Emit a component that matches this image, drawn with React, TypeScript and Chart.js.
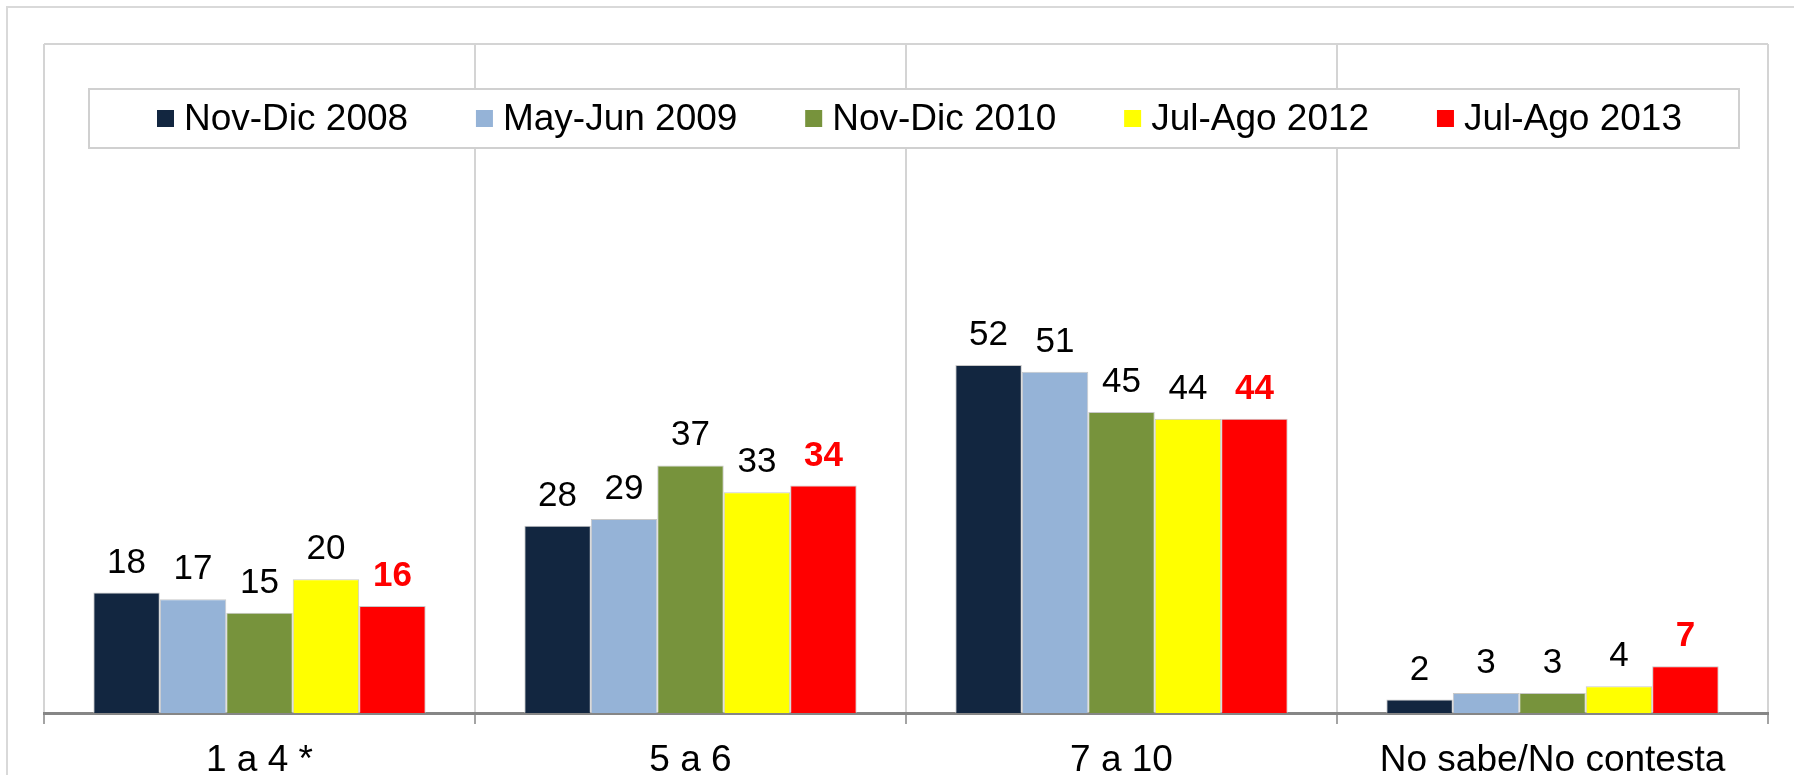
import React, { useEffect, useRef } from "react";
import { Chart, registerables } from "chart.js";

Chart.register(...registerables);

const categories = ["1 a 4 *", "5 a 6", "7 a 10", "No sabe/No contesta"];
const seriesNames = ["Nov-Dic 2008", "May-Jun 2009", "Nov-Dic 2010", "Jul-Ago 2012", "Jul-Ago 2013"];
const nov2008 = [18, 28, 52, 2];
const may2009 = [17, 29, 51, 3];
const nov2010 = [15, 37, 45, 3];
const jul2012 = [20, 33, 44, 4];
const jul2013 = [16, 34, 44, 7];
const seriesColors = ["#122640", "#95b3d7", "#77933c", "#ffff00", "#ff0000"];

const FONT = "'Liberation Sans', Arial, sans-serif";

const framePlugin = {
  id: "frame",
  beforeDraw(chart: any) {
    const ctx = chart.ctx;
    ctx.save();
    ctx.fillStyle = "#ffffff";
    ctx.fillRect(0, 0, chart.width, chart.height);
    ctx.strokeStyle = "#d9d9d9";
    ctx.lineWidth = 2;
    ctx.strokeRect(7, 7, chart.width + 50, chart.height + 50);
    const a = chart.chartArea;
    ctx.strokeStyle = "#d4d4d4";
    ctx.beginPath();
    ctx.moveTo(a.left, a.top);
    ctx.lineTo(a.right, a.top);
    ctx.stroke();
    ctx.restore();
  },
  afterDatasetsDraw(chart: any) {
    const ctx = chart.ctx;
    ctx.save();
    ctx.textAlign = "center";
    ctx.textBaseline = "alphabetic";
    chart.data.datasets.forEach((ds: any, di: number) => {
      const meta = chart.getDatasetMeta(di);
      const last = di === chart.data.datasets.length - 1;
      ctx.font = (last ? "bold " : "") + "35px " + FONT;
      ctx.fillStyle = last ? "#ff0000" : "#000000";
      meta.data.forEach((bar: any, i: number) => {
        ctx.fillText(String(ds.data[i]), bar.x, bar.y - 20);
      });
    });
    ctx.restore();
  },
  afterDraw(chart: any) {
    const ctx = chart.ctx;
    ctx.save();
    const bx = 89, by = 89, bw = 1650, bh = 59;
    ctx.fillStyle = "#ffffff";
    ctx.fillRect(bx, by, bw, bh);
    ctx.strokeStyle = "#d0d0d0";
    ctx.lineWidth = 2;
    ctx.strokeRect(bx, by, bw, bh);
    ctx.font = "37px " + FONT;
    const marker = 17, mgap = 10;
    const widths = seriesNames.map((n) => ctx.measureText(n).width);
    const startX = 157, endX = 1682;
    const textSum = widths.reduce((s, w) => s + marker + mgap + w, 0);
    const igap = (endX - startX - textSum) / (seriesNames.length - 1);
    let x = startX;
    const cy = by + bh / 2;
    ctx.textBaseline = "middle";
    ctx.textAlign = "left";
    seriesNames.forEach((n, i) => {
      ctx.fillStyle = seriesColors[i];
      ctx.fillRect(x, cy - marker / 2, marker, marker);
      ctx.fillStyle = "#000000";
      ctx.fillText(n, x + marker + mgap, cy + 1);
      x += marker + mgap + widths[i] + igap;
    });
    ctx.restore();
  },
};

export default function App() {
  const ref = useRef<HTMLCanvasElement>(null);
  useEffect(() => {
    if (!ref.current) return;
    const seriesData = [nov2008, may2009, nov2010, jul2012, jul2013];
    const chart = new Chart(ref.current, {
      type: "bar",
      data: {
        labels: categories,
        datasets: seriesNames.map((name, i) => ({
          label: name,
          data: seriesData[i],
          backgroundColor: seriesColors[i],
          borderColor: "#c8c8c8",
          borderWidth: 1,
          categoryPercentage: 0.771,
          barPercentage: 1,
        })),
      },
      options: {
        responsive: false,
        animation: false,
        devicePixelRatio: 1,
        layout: { padding: { left: 44, right: 26, top: 44, bottom: 0 } },
        plugins: { legend: { display: false }, tooltip: { enabled: false } },
        scales: {
          x: {
            grid: {
              offset: true,
              color: "#d4d4d4",
              lineWidth: 2,
              tickColor: "#868686",
              tickLength: 11,
              tickWidth: 1.5,
            },
            border: { color: "#868686", width: 3 },
            ticks: { color: "#000000", font: { family: FONT, size: 37 }, padding: 15 },
            afterFit: (scale: any) => {
              scale.height = 62;
            },
          },
          y: { display: false, min: 0, max: 100 },
        },
      },
      plugins: [framePlugin],
    });
    return () => chart.destroy();
  }, []);
  return (
    <div style={{ position: "absolute", left: 0, top: 0, width: 1794, height: 775, overflow: "hidden" }}>
      <canvas ref={ref} width={1794} height={775} style={{ display: "block" }} />
    </div>
  );
}
